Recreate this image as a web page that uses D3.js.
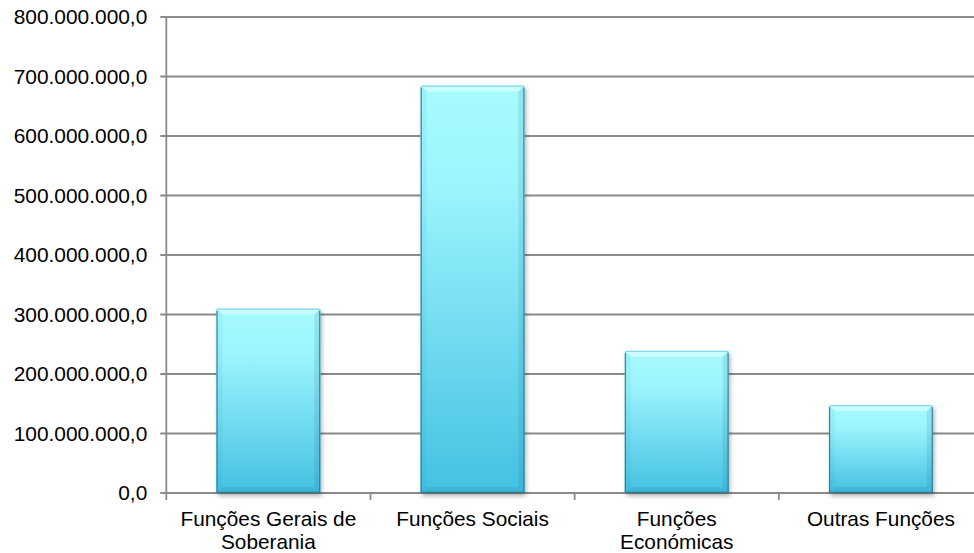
<!DOCTYPE html>
<html>
<head>
<meta charset="utf-8">
<script src="https://cdn.jsdelivr.net/npm/d3@7"></script>
<style>
  html, body { margin: 0; padding: 0; background: #fff; }
  svg { display: block; }
  text { font-family: "Liberation Sans", Arial, sans-serif; fill: #000; }
</style>
</head>
<body>
<svg id="chart" width="974" height="553"></svg>
<script>
const categories = ["Funções Gerais de Soberania", "Funções Sociais", "Funções Económicas", "Outras Funções"];
const values = [310000000, 685000000, 239000000, 148000000];
const yTicks = [0, 100000000, 200000000, 300000000, 400000000, 500000000, 600000000, 700000000, 800000000];

const W = 974, H = 553;
const margin = { left: 166.3, top: 17, right: -9, bottom: 60 };
const svg = d3.select("#chart");
const plotW = W - margin.left - margin.right;
const plotH = H - margin.top - margin.bottom;

const locale = d3.formatLocale({ decimal: ",", thousands: ".", grouping: [3], currency: ["", "€"] });
const fmt = locale.format(",.1f");

const x = d3.scaleBand().domain(categories).range([0, plotW]).paddingInner(0.491).paddingOuter(0.2455);
const y = d3.scaleLinear().domain([0, 800000000]).range([plotH, 0]);

const defs = svg.append("defs");
const grad = defs.append("linearGradient").attr("id", "barGrad").attr("x1", 0).attr("y1", 0).attr("x2", 0).attr("y2", 1);
grad.append("stop").attr("offset", "0%").attr("stop-color", "#a6fbff");
grad.append("stop").attr("offset", "25%").attr("stop-color", "#9cf4fd");
grad.append("stop").attr("offset", "100%").attr("stop-color", "#44c1e2");

const sh = defs.append("filter").attr("id", "shadow").attr("x", "-20%").attr("y", "-20%").attr("width", "140%").attr("height", "140%");
sh.append("feDropShadow").attr("dx", 1.5).attr("dy", 3).attr("stdDeviation", 2.2).attr("flood-color", "#000").attr("flood-opacity", 0.3);

const g = svg.append("g").attr("transform", `translate(${margin.left},${margin.top})`);

// gridlines
g.append("g").selectAll("line").data(yTicks).join("line")
  .attr("x1", -6).attr("x2", plotW)
  .attr("y1", d => y(d)).attr("y2", d => y(d))
  .attr("stroke", "#8a8a8a").attr("stroke-width", 1.8);

// y axis line
g.append("line").attr("x1", 0).attr("x2", 0).attr("y1", 0).attr("y2", plotH)
  .attr("stroke", "#8a8a8a").attr("stroke-width", 1.8);

// y labels
const yAxis = d3.axisLeft(y).tickValues(yTicks).tickFormat(fmt).tickSize(0).tickPadding(19);
const ya = g.append("g").call(yAxis);
ya.select(".domain").remove();
ya.selectAll("text").style("font-size", "20.9px").attr("font-family", null).attr("fill", "#000");

// x axis ticks
const xTickPos = d3.range(categories.length + 1).map(i => x.step() * i);
g.append("g").selectAll("line").data(xTickPos).join("line")
  .attr("x1", d => d).attr("x2", d => d).attr("y1", plotH).attr("y2", plotH + 7)
  .attr("stroke", "#8a8a8a").attr("stroke-width", 1.8);

// bars
const bars = g.append("g").selectAll("g").data(categories).join("g");
bars.each(function(c, i) {
  const sel = d3.select(this);
  const x0 = x(c), x1 = x(c) + x.bandwidth();
  const y0 = y(values[i]), y1 = y(0);
  const b = 6;
  sel.append("rect").attr("x", x0).attr("y", y0).attr("width", x1 - x0).attr("height", y1 - y0)
    .attr("fill", "url(#barGrad)").attr("filter", "url(#shadow)");
  // top bevel
  sel.append("path").attr("d", `M${x0},${y0}L${x1},${y0}L${x1-b},${y0+b}L${x0+b},${y0+b}Z`)
    .attr("fill", "#ffffff").attr("opacity", 0.42);
  // left bevel
  sel.append("path").attr("d", `M${x0},${y0}L${x0+b},${y0+b}L${x0+b},${y1-b}L${x0},${y1}Z`)
    .attr("fill", "#1f8fb0").attr("opacity", 0.08);
  // right bevel
  sel.append("path").attr("d", `M${x1},${y0}L${x1-b},${y0+b}L${x1-b},${y1-b}L${x1},${y1}Z`)
    .attr("fill", "#0d5d78").attr("opacity", 0.13);
  // bottom bevel
  sel.append("path").attr("d", `M${x0},${y1}L${x0+b},${y1-b}L${x1-b},${y1-b}L${x1},${y1}Z`)
    .attr("fill", "#0d5d78").attr("opacity", 0.12);
  // dark edges
  sel.append("path").attr("d", `M${x0+0.6},${y0+2}L${x0+0.6},${y1-0.6}L${x1-0.6},${y1-0.6}L${x1-0.6},${y0+2}`)
    .attr("fill", "none").attr("stroke", "#2a7a92").attr("stroke-width", 1.2).attr("opacity", 0.9);
  sel.append("path").attr("d", `M${x0+1},${y0+0.6}L${x1-1},${y0+0.6}`)
    .attr("fill", "none").attr("stroke", "#6fcfe6").attr("stroke-width", 1.2).attr("opacity", 0.8);
});

// x labels with wrapping
const maxW = 190;
const lab = g.append("g");
categories.forEach(c => {
  const cx = x(c) + x.bandwidth() / 2;
  const t = lab.append("text").attr("text-anchor", "middle").style("font-size", "20.8px")
    .attr("x", cx).attr("y", plotH + 32.5);
  const words = c.split(" ");
  let line = [];
  let lines = [];
  let ts = t.append("tspan").attr("x", cx);
  words.forEach(w => {
    line.push(w);
    ts.text(line.join(" "));
    if (ts.node().getComputedTextLength() > maxW && line.length > 1) {
      line.pop();
      lines.push(line.join(" "));
      line = [w];
      ts.text(w);
    }
  });
  lines.push(line.join(" "));
  t.selectAll("tspan").remove();
  lines.forEach((l, k) => {
    t.append("tspan").attr("x", cx).attr("dy", k === 0 ? 0 : 23).text(l);
  });
});
</script>
</body>
</html>
